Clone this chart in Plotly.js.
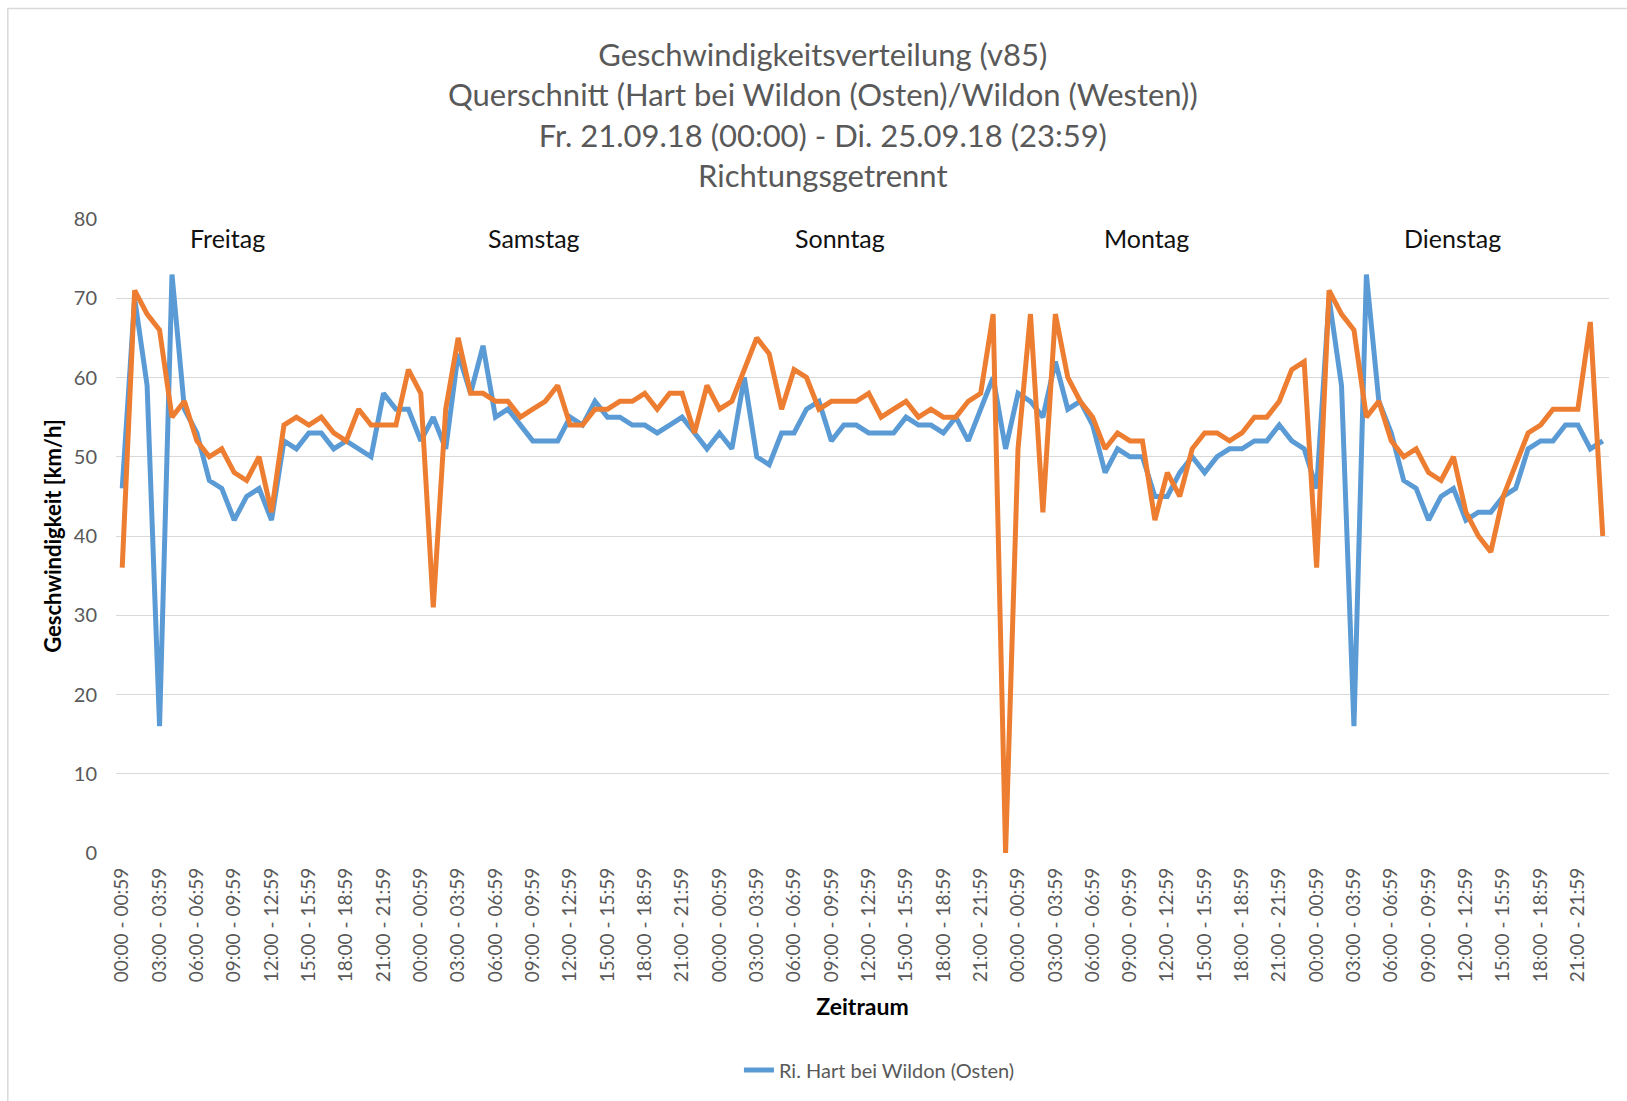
<!DOCTYPE html>
<html>
<head>
<meta charset="utf-8">
<script src="https://cdn.plot.ly/plotly-3.0.1.min.js"></script>
<style>
  html, body { margin: 0; padding: 0; background: #ffffff; }
  #chart { width: 1627px; height: 1101px; }
</style>
</head>
<body>
<div id="chart"></div>
<script>
// ---- data ----
const days = ["Freitag", "Samstag", "Sonntag", "Montag", "Dienstag"];
const tickLabels = ["00:00 - 00:59", "03:00 - 03:59", "06:00 - 06:59", "09:00 - 09:59",
                    "12:00 - 12:59", "15:00 - 15:59", "18:00 - 18:59", "21:00 - 21:59"];
const seriesOsten = "Ri. Hart bei Wildon (Osten)";
const seriesWesten = "Ri. Wildon (Westen)";

// v85 [km/h], hourly, Fr 00:00 ... Di 23:59
const osten = [
  46, 70, 59, 16, 73, 56, 53, 47, 46, 42, 45, 46, 42, 52, 51, 53, 53, 51, 52, 51, 50, 58, 56, 56,
  52, 55, 51, 63, 58, 64, 55, 56, 54, 52, 52, 52, 55, 54, 57, 55, 55, 54, 54, 53, 54, 55, 53, 51,
  53, 51, 60, 50, 49, 53, 53, 56, 57, 52, 54, 54, 53, 53, 53, 55, 54, 54, 53, 55, 52, 56, 60, 51,
  58, 57, 55, 62, 56, 57, 54, 48, 51, 50, 50, 45, 45, 48, 50, 48, 50, 51, 51, 52, 52, 54, 52, 51,
  46, 70, 59, 16, 73, 57, 53, 47, 46, 42, 45, 46, 42, 43, 43, 45, 46, 51, 52, 52, 54, 54, 51, 52
];
const westen = [
  36, 71, 68, 66, 55, 57, 52, 50, 51, 48, 47, 50, 43, 54, 55, 54, 55, 53, 52, 56, 54, 54, 54, 61,
  58, 31, 56, 65, 58, 58, 57, 57, 55, 56, 57, 59, 54, 54, 56, 56, 57, 57, 58, 56, 58, 58, 53, 59,
  56, 57, 61, 65, 63, 56, 61, 60, 56, 57, 57, 57, 58, 55, 56, 57, 55, 56, 55, 55, 57, 58, 68, 0,
  51, 68, 43, 68, 60, 57, 55, 51, 53, 52, 52, 42, 48, 45, 51, 53, 53, 52, 53, 55, 55, 57, 61, 62,
  36, 71, 68, 66, 55, 57, 52, 50, 51, 48, 47, 50, 43, 40, 38, 45, 49, 53, 54, 56, 56, 56, 67, 40
];

// ---- derived ----
const hoursPerDay = 24;
const xIdx = osten.map((_, i) => i);
const tickVals = [];
const tickText = [];
days.forEach((d, di) => {
  tickLabels.forEach((t, ti) => {
    tickVals.push(di * hoursPerDay + ti * 3);
    tickText.push(t);
  });
});

const FONT = "Lato, 'Open Sans', 'Liberation Sans', sans-serif";
const GRAY = "#595959";

const traces = [
  {
    x: xIdx, y: osten, type: "scatter", mode: "lines", name: seriesOsten,
    line: { color: "#5B9BD5", width: 5, shape: "linear" },
    hoverinfo: "y"
  },
  {
    x: xIdx, y: westen, type: "scatter", mode: "lines", name: seriesWesten,
    line: { color: "#ED7D31", width: 5, shape: "linear" },
    showlegend: false, hoverinfo: "y"
  }
];

const mL = 115.5, mR = 18.4, mT = 219.4, mB = 245.7, W = 1627, H = 1101;
const plotW = W - mL - mR, plotH = H - mT - mB;
const px2paperX = px => (px - mL) / plotW;
const px2paperY = py => (H - mB - py) / plotH;

const dayAnnotations = days.map((d, i) => ({
  text: d, x: 8.5 + 24.6 * i, y: 77.6, xref: "x", yref: "y",
  showarrow: false, xanchor: "center", yanchor: "middle",
  font: { family: FONT, size: 25, color: "#111111" }
}));

const layout = {
  width: W, height: H,
  margin: { l: mL, r: mR, t: mT, b: mB, pad: 0 },
  paper_bgcolor: "#ffffff", plot_bgcolor: "#ffffff",
  font: { family: FONT, color: GRAY },
  title: {
    text: "Geschwindigkeitsverteilung (v85)<br>Querschnitt (Hart bei Wildon (Osten)/Wildon (Westen))<br>Fr. 21.09.18 (00:00) - Di. 25.09.18 (23:59)<br>Richtungsgetrennt",
    font: { family: FONT, size: 31, color: GRAY },
    x: 822.8 / W, xref: "container", xanchor: "center",
    y: 1 - 66 / H, yref: "container", yanchor: "middle"
  },
  xaxis: {
    range: [-0.5, 119.5],
    tickmode: "array", tickvals: tickVals, ticktext: tickText,
    tickangle: -90,
    tickfont: { family: FONT, size: 19, color: GRAY },
    ticks: "", showgrid: false, zeroline: false, showline: false,
    ticklabelstandoff: 10,
    title: { text: "<b>Zeitraum</b>", font: { family: FONT, size: 23, color: "#000000" }, standoff: 17 },
    fixedrange: true
  },
  yaxis: {
    range: [0, 80], dtick: 10, tick0: 0,
    tickfont: { family: FONT, size: 20, color: GRAY },
    ticks: "", showgrid: true, gridcolor: "#d9d9d9", gridwidth: 1.3,
    zeroline: false, showline: false,
    ticklabelstandoff: 18,
    title: { text: "<b>Geschwindigkeit [km/h]</b>", font: { family: FONT, size: 22, color: "#000000" }, standoff: 6 },
    fixedrange: true
  },
  showlegend: true,
  legend: {
    orientation: "h", x: px2paperX(879), xanchor: "center",
    y: px2paperY(1073), yanchor: "middle",
    font: { family: FONT, size: 20, color: GRAY },
    bgcolor: "rgba(0,0,0,0)"
  },
  annotations: dayAnnotations,
  shapes: [
    {
      type: "rect", xref: "paper", yref: "paper",
      x0: px2paperX(7.3), x1: px2paperX(1660), y0: px2paperY(1140), y1: px2paperY(8.3),
      line: { color: "#d9d9d9", width: 1.5 }, fillcolor: "rgba(0,0,0,0)", layer: "below"
    }
  ],
  hovermode: "closest"
};

Plotly.newPlot("chart", traces, layout, { displayModeBar: false, staticPlot: false });
</script>
</body>
</html>
